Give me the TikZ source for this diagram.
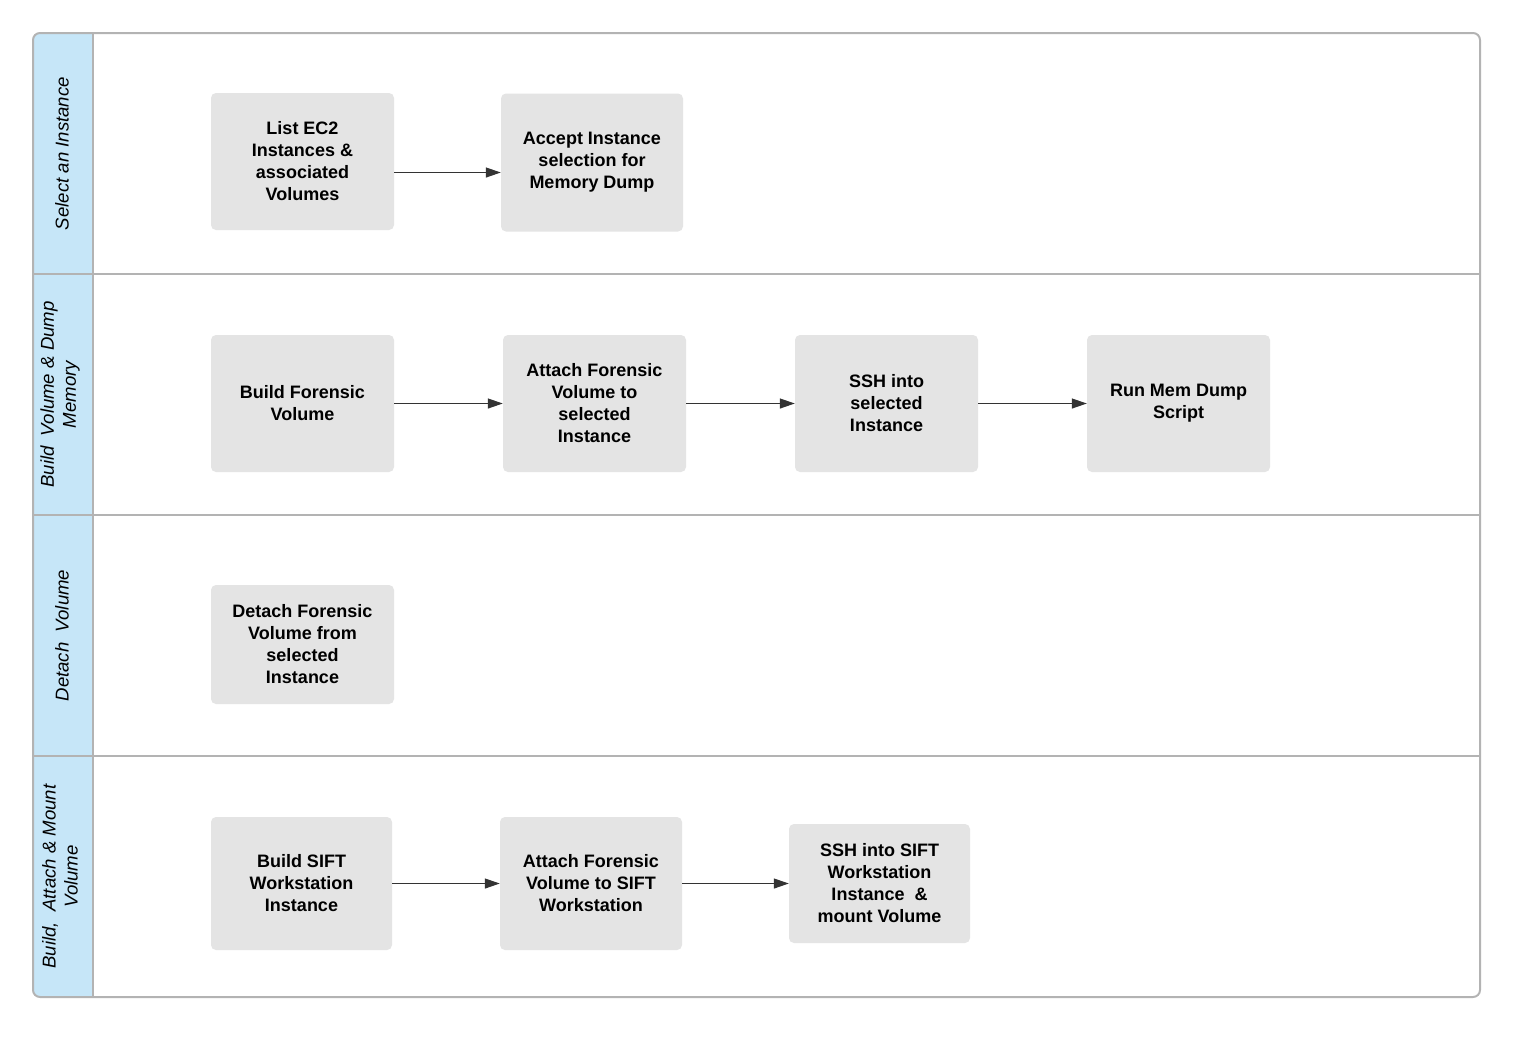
\documentclass[tikz,border=0pt]{standalone}
\usepackage{fontspec}
\setmainfont{Liberation Sans}
\usetikzlibrary{
  arrows.meta,
  positioning
}
\definecolor{boxgray}{HTML}{E4E4E4}
\definecolor{lanecol}{HTML}{C6E6F8}
\definecolor{framecol}{HTML}{B3B3B3}
\definecolor{arrowcol}{HTML}{333333}

\begin{document}
\begin{tikzpicture}[
    x=1pt, y=-1pt,
    >={Triangle[length=15pt,width=10pt]},
    task/.style={fill=boxgray, rounded corners=5pt, align=center,
      font=\fontsize{18}{22}\selectfont\bfseries,
      minimum width=183pt, minimum height=137pt, inner sep=2pt},
    lane/.style={rotate=90, align=center,
      font=\fontsize{18.6}{22}\selectfont\itshape},
    flow/.style={->, draw=arrowcol, fill=arrowcol, line width=1.2pt}
    ]

    \useasboundingbox (0,0) rectangle (1514,1037);

    % swimlane frame
    \begin{scope}
    \clip[rounded corners=7pt] (33,33) rectangle (1480,997);
    \fill[white] (33,33) rectangle (1480,997);
    \fill[lanecol] (33,33) rectangle (93,997);
    \end{scope}
    \draw[framecol, line width=1.6pt] (93,33) -- (93,997);
    \foreach \y in {274,515,756}
      \draw[framecol, line width=1.6pt] (33,\y) -- (1480,\y);
    \draw[framecol, line width=2pt, rounded corners=7pt]
      (33,33) rectangle (1480,997);

    % lane titles
    \node[lane] (lane1) at (62,153.5) {Select an Instance};
    \node[lane] (lane2) at (60,394.5) {Build~ Volume \& Dump\\Memory};
    \node[lane] (lane3) at (62,635.5) {Detach~ Volume};
    \node[lane] (lane4) at (60,876.5) {Build,~ Attach \& Mount\\Volume};

    % lane 1
    \node[task] (list) at (302.5,161.5)
      {List EC2\\Instances \&\\associated\\Volumes};
    \node[task, minimum width=182pt, minimum height=138pt] (accept) at (592,162.5)
      {Accept Instance\\selection for\\Memory Dump};

    % lane 2
    \node[task] (build) at (302.5,403.5) {Build Forensic\\Volume};
    \node[task] (attach) at (594.5,403.5)
      {Attach Forensic\\Volume to\\selected\\Instance};
    \node[task] (ssh) at (886.5,403.5) {SSH into\\selected\\Instance};
    \node[task] (run) at (1178.5,403.5) {Run Mem Dump\\Script};

    % lane 3
    \node[task, minimum height=119pt] (detach) at (302.5,644.5)
      {Detach Forensic\\Volume from\\selected\\Instance};

    % lane 4
    \node[task, minimum width=181pt, minimum height=133pt] (sift) at (301.5,883.5)
      {Build SIFT\\Workstation\\Instance};
    \node[task, minimum width=182pt, minimum height=133pt] (attachsift) at (591,883.5)
      {Attach Forensic\\Volume to SIFT\\Workstation};
    \node[task, minimum width=181pt, minimum height=119pt] (sshsift) at (879.5,883.5)
      {SSH into SIFT\\Workstation\\Instance~ \&\\mount Volume};

    % connectors
    \draw[flow] ([yshift=-11pt]list.east) -- ([yshift=-11pt]accept.west |- list.east);
    \draw[flow] (build) -- (attach);
    \draw[flow] (attach) -- (ssh);
    \draw[flow] (ssh) -- (run);
    \draw[flow] (sift) -- (attachsift);
    \draw[flow] (attachsift) -- (sshsift);

\end{tikzpicture}
\end{document}
